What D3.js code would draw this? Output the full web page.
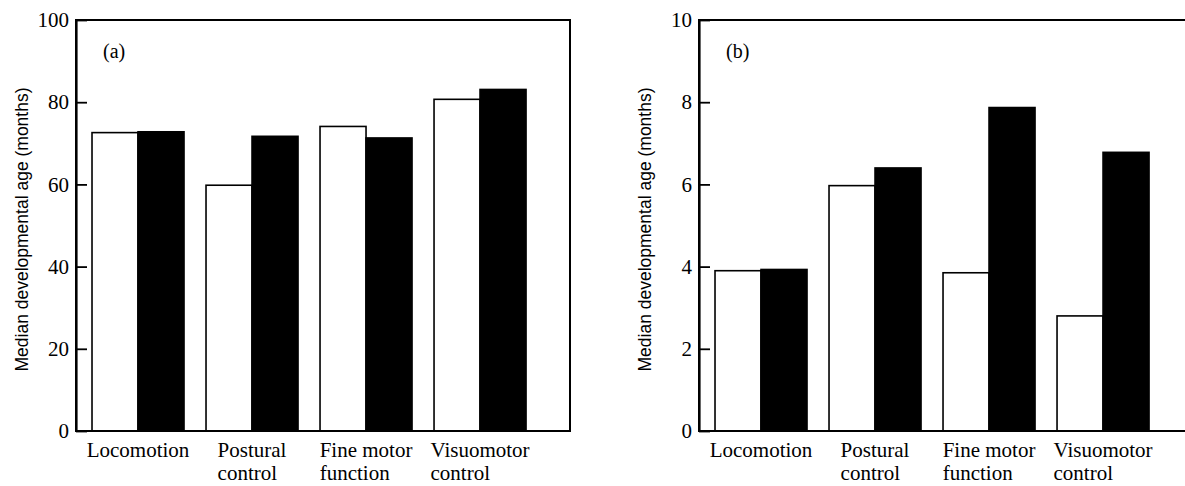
<!DOCTYPE html>
<html>
<head>
<meta charset="utf-8">
<script src="https://cdn.jsdelivr.net/npm/d3@7"></script>
<style>
  body { margin: 0; background: #fff; }
  svg { display: block; }
</style>
</head>
<body>
<script>
// categories on the x axis, with the line breaks used in the labels
const categories = ['Locomotion', 'Postural control', 'Fine motor function', 'Visuomotor control']
const categoryLines = [['Locomotion'], ['Postural', 'control'], ['Fine motor', 'function'], ['Visuomotor', 'control']]
const groups = ['open', 'filled']

// panel (a): median developmental age in months
const openA = [72.6, 59.8, 74.1, 80.7]
const filledA = [72.8, 71.7, 71.3, 83.1]
const ticksA = [0, 20, 40, 60, 80, 100]

// panel (b)
const openB = [3.9, 5.97, 3.85, 2.8]
const filledB = [3.93, 6.4, 7.87, 6.78]
const ticksB = [0, 2, 4, 6, 8, 10]

const W = 1185, H = 486
const plotW = 494, plotH = 411, marginTop = 20

const svg = d3.select('body').append('svg')
  .attr('width', W)
  .attr('height', H)
  .attr('viewBox', `0 0 ${W} ${H}`)

const serif = '"Liberation Serif", "Times New Roman", serif'

function panel(left, label, open, filled, ticks) {
  const g = svg.append('g').attr('transform', `translate(${left}, ${marginTop})`)

  const y = d3.scaleLinear()
    .domain([ticks[0], ticks[ticks.length - 1]])
    .range([plotH, 0])

  const x = d3.scaleBand()
    .domain(categories)
    .range([0, plotW])
    .paddingInner(0.193)
    .paddingOuter(0.263)
    .align(0.267)

  const xs = d3.scaleBand()
    .domain(groups)
    .range([0, x.bandwidth()])

  const rows = categories.map((c, i) => ({cat: c, open: open[i], filled: filled[i]}))

  // bars
  const grp = g.selectAll('g.grp').data(rows).enter()
    .append('g')
    .attr('class', 'grp')
    .attr('transform', d => `translate(${x(d.cat)}, 0)`)

  grp.selectAll('rect').data(d => groups.map(k => ({k, v: d[k]}))).enter()
    .append('rect')
    .attr('x', d => xs(d.k))
    .attr('y', d => y(d.v))
    .attr('width', xs.bandwidth())
    .attr('height', d => plotH - y(d.v))
    .attr('fill', d => d.k === 'open' ? '#fff' : '#000')
    .attr('stroke', '#000')
    .attr('stroke-width', 1.6)

  // frame (top, right, bottom)
  g.append('rect')
    .attr('x', 0).attr('y', 0)
    .attr('width', plotW).attr('height', plotH)
    .attr('fill', 'none')
    .attr('stroke', '#000')
    .attr('stroke-width', 2)

  // y axis
  const ax = g.append('g')
    .call(d3.axisLeft(y).tickValues(ticks).tickSizeInner(-11).tickSizeOuter(0).tickPadding(7))
  ax.select('.domain').attr('stroke-width', 2.2)
  ax.selectAll('.tick line').attr('stroke-width', 1.8)
  ax.selectAll('.tick text')
    .style('font-family', serif)
    .style('font-size', '21px')
    .attr('fill', '#000')

  // category labels: first line centred on the group, second line starts under it
  const lab = g.append('g')
  rows.forEach((d, i) => {
    const cx = x(d.cat) + x.bandwidth() / 2
    const first = lab.append('text')
      .attr('x', cx)
      .attr('y', plotH + 26)
      .attr('text-anchor', 'middle')
      .style('font-family', serif)
      .style('font-size', '21px')
      .text(categoryLines[i][0])
    const x0 = cx - first.node().getComputedTextLength() / 2
    if (categoryLines[i][1]) {
      lab.append('text')
        .attr('x', x0)
        .attr('y', plotH + 48.5)
        .style('font-family', serif)
        .style('font-size', '21px')
        .text(categoryLines[i][1])
    }
  })

  // panel tag
  g.append('text')
    .attr('x', 27)
    .attr('y', 38)
    .style('font-family', serif)
    .style('font-size', '20px')
    .text(label)

  // y axis title
  g.append('text')
    .attr('transform', `translate(-48, ${plotH / 2 + 4}) rotate(-90)`)
    .attr('text-anchor', 'middle')
    .style('font-family', '"Liberation Sans", Arial, sans-serif')
    .style('font-size', '17.5px')
    .text('Median developmental age (months)')
}

panel(76, '(a)', openA, filledA, ticksA)
panel(699, '(b)', openB, filledB, ticksB)
</script>
</body>
</html>
